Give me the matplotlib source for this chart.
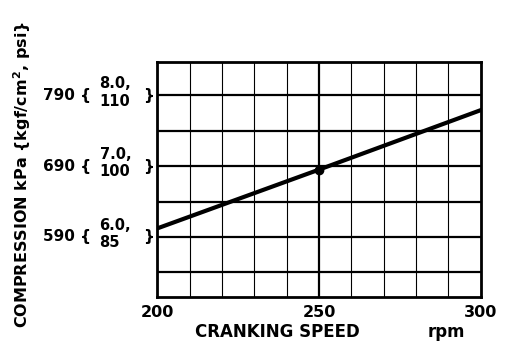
import matplotlib.pyplot as plt

# cranking speed (rpm) vs compression (kPa)
speed = [200, 250, 300]
pressure = [602, 685, 769]

y_marks = [790, 690, 590]
y_alt = ["8.0,\n110", "7.0,\n100", "6.0,\n85"]
x_ticks = [200, 250, 300]
x_grid = list(range(200, 301, 10))
y_grid = [540, 590, 640, 690, 740, 790]

fig = plt.figure(figsize=(5.12, 3.5), dpi=100)
ax = fig.add_axes([0.307, 0.151, 0.632, 0.672])

ax.set_xlim(200, 300)
ax.set_ylim(505, 837)

for xv in x_grid:
    lw = 1.6 if xv == 250 else 0.8
    ax.axvline(xv, color="black", lw=lw, zorder=1)
for yv in y_grid:
    ax.axhline(yv, color="black", lw=1.6, zorder=1)

ax.plot(speed, pressure, color="black", lw=3, zorder=3)
ax.plot([250], [685], "o", color="black", ms=6, zorder=4)

for s in ax.spines.values():
    s.set_linewidth(2)

ax.set_xticks(x_ticks)
ax.set_xticklabels([str(v) for v in x_ticks], fontsize=11.5, fontweight="bold")
ax.tick_params(axis="x", length=0, pad=6)
ax.set_yticks([])

tr = ax.get_yaxis_transform()
for yv, alt in zip(y_marks, y_alt):
    ax.text(-0.205, yv, f"{yv} {{", transform=tr, ha="right", va="center",
            fontsize=11, fontweight="bold", clip_on=False)
    ax.text(-0.178, yv + 4, alt, transform=tr, ha="left", va="center",
            fontsize=10.5, fontweight="bold", linespacing=1.2, clip_on=False)
    ax.text(-0.01, yv, "}", transform=tr, ha="right", va="center",
            fontsize=11, fontweight="bold", clip_on=False)

fig.text(0.541, 0.037, "CRANKING SPEED", ha="center", va="baseline",
         fontsize=12, fontweight="bold")
fig.text(0.871, 0.037, "rpm", ha="center", va="baseline",
         fontsize=12, fontweight="bold")
fig.text(0.043, 0.50, "COMPRESSION kPa {kgf/cm$^\\mathbf{2}$, psi}", rotation=90,
         ha="center", va="center", fontsize=11.5, fontweight="bold")

fig.savefig("out.png", dpi=100)
